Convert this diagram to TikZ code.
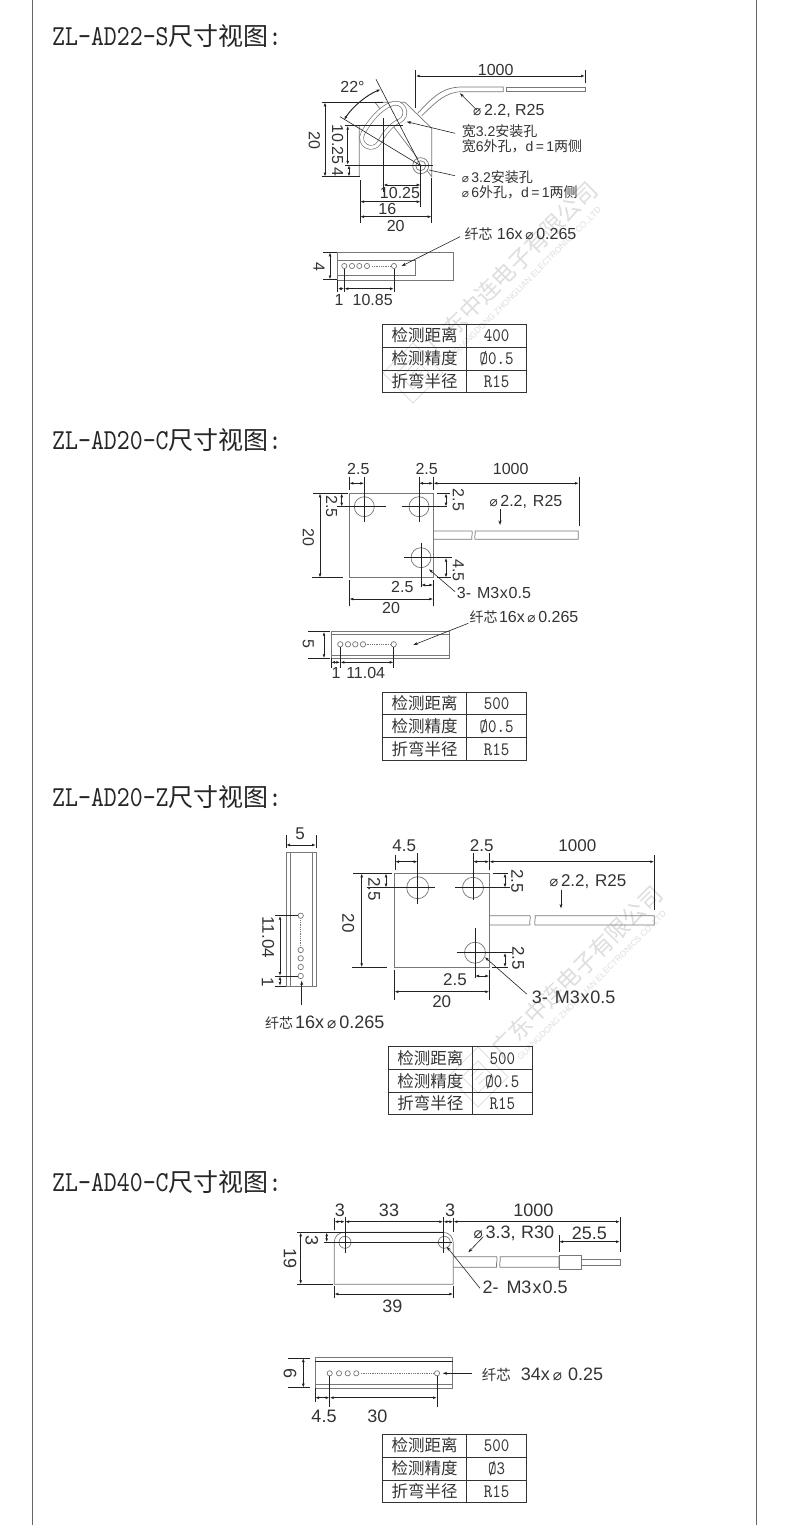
\documentclass[tikz,border=0pt]{standalone}
\usepackage{fontspec}
\setmainfont{Liberation Sans}
\newfontfamily\cj{Noto Sans CJK SC}
\newfontfamily\djv{DejaVu Sans}
\newfontfamily\hf[FakeStretch=0.85]{lmmono10-regular.otf}
\usetikzlibrary{arrows.meta}
\definecolor{txt}{HTML}{333333}
\definecolor{lin}{HTML}{222222}
\definecolor{thinc}{HTML}{777777}
\definecolor{wm}{HTML}{DEDEDE}
\newcommand\C[1]{{\cj #1}}
\newcommand\dia{\scalebox{0.85}{\djv ⌀}}
\newcommand\fib{\C{\fontsize{14}{16}\selectfont 纤芯}}
\newcounter{nn}
\newcommand\tx[3][]{\stepcounter{nn}\node[lab,#1] (t\arabic{nn}) at (#2) {#3};}
\tikzset{
  lab/.style={inner sep=0pt,text=txt,anchor=center},
  sA/.style={font=\fontsize{16}{18}\selectfont},
  sB/.style={font=\fontsize{17}{19}\selectfont},
  sC/.style={font=\fontsize{18}{20}\selectfont},
  sN/.style={font=\fontsize{14}{16}\selectfont},
  rv/.style={rotate=-90},
  lf/.style={anchor=west},
  dimn/.style={draw=lin,line width=.95pt,{Latex[length=4pt,width=2.8pt]}-{Latex[length=4pt,width=2.8pt]}},
  ext/.style={draw=lin,line width=.95pt},
  thinl/.style={draw=thinc,line width=.7pt},
  lead/.style={draw=lin,line width=.6pt,-{Stealth[length=4.5pt,width=3pt]}},
  sm/.style={draw=thinc,line width=.7pt,fill=white},
  dots/.style={draw=thinc,line width=.8pt,dash pattern=on .9pt off .9pt},
  wmc/.style={rotate=45,text=wm,inner sep=0pt,font=\cj\fontsize{23}{24}\selectfont},
  wme/.style={rotate=45,text=wm,inner sep=0pt,font=\fontsize{8.5}{10}\selectfont},
  heading/.style={inner sep=0pt,anchor=west,text=black!85},
  tcell/.style={inner sep=0pt,text=txt,font=\cj\fontsize{16.5}{18}\selectfont},
  tval/.style={inner sep=0pt,text=txt,font=\hf\fontsize{19}{20}\selectfont},
}
\newcommand\wmark[2]{%
  \begin{scope}[shift={(#1,#2)}]
    \node[wmc] (wa#1) at (0,2) {广东中连电子有限公司};
    \node[wme] (wb#1) at (15,17) {GUANGDONG ZHONGLIAN ELECTRONICS CO.,LTD};
    \draw[wm,line width=1pt] (-99,78) -- (-69,108) -- (-99,138) -- (-129,108) -- cycle;
    \draw[wm,line width=1pt] (-99,92) -- (-83,108) -- (-99,124) -- (-115,108) -- cycle;
    \draw[wm,line width=1pt] (-106,107) -- (-98,99) (-102,111) -- (-94,103) (-98,115) -- (-90,107);
  \end{scope}}
\newcommand\head[2]{\node[heading] (h#1) at (52,#1) {\hf\fontsize{29}{30}\selectfont #2\C{\fontsize{25}{30}\selectfont 尺寸视图}:};}
\newcommand\tbl[5]{%
  \begin{scope}[shift={(#1,#2)}]
    \draw[draw=txt,line width=.9pt] (0,0) rectangle (144,68);
    \draw[draw=txt,line width=.9pt] (0,22.7) -- (144,22.7) (0,45.7) -- (144,45.7) (84,0) -- (84,68);
    \node[tcell] (ca#2) at (42,11.3) {检测距离};
    \node[tcell] (cb#2) at (42,34.2) {检测精度};
    \node[tcell] (cc#2) at (42,56.8) {折弯半径};
    \node[tval] (va#2) at (114,11.8) {#3};
    \node[tval] (vb#2) at (114,34.7) {#4};
    \node[tval] (vc#2) at (114,57.3) {#5};
  \end{scope}}
\newcommand\hl[3]{\draw[sm] (#1,#2) circle (#3);}
\newcommand\slotpath{(395.5,112.5) .. controls (386,116) and (377,127) .. (371,138)}
\begin{document}
\begin{tikzpicture}[x=1pt,y=-1pt]
\useasboundingbox (0,0) rectangle (790,1525);
\fill[white] (0,0) rectangle (790,1525);
% watermarks
\wmark{512}{265}
\wmark{577}{969}
% frame
\draw[draw=black!60,line width=1pt] (32.5,0) -- (32.5,1525) (756.3,0) -- (756.3,1525);
% headings
\head{36}{ZL-AD22-S}
\head{440}{ZL-AD20-C}
\head{797}{ZL-AD20-Z}
\head{1182}{ZL-AD40-C}
% tables
\tbl{382.7}{324.3}{400}{Ø0.5}{R15}
\tbl{382.7}{692}{500}{Ø0.5}{R15}
\tbl{388.3}{1046.7}{500}{Ø0.5}{R15}
\tbl{382.7}{1434.3}{500}{Ø3}{R15}

%% ========== section 1
\draw[thinl] (359.3,176.7) -- (359.3,125) (375,102.3) -- (405,102.3) -- (431.7,128.3) -- (431.7,176.7) -- cycle;
\draw[line width=23.4pt,line cap=round,draw=thinc] \slotpath;
\draw[line width=22pt,line cap=round,draw=white] \slotpath;
\draw[line width=15.4pt,line cap=round,draw=thinc] \slotpath;
\draw[line width=14pt,line cap=round,draw=white] \slotpath;
% cable
\draw[thinl] (417.7,113.3) .. controls (432,98) and (442,87) .. (462,87) -- (503.3,87) -- (503.3,91.7) -- (462,91.7) .. controls (446,91.7) and (436,102) .. (421.7,115.7);
\draw[thinl] (506,87) rectangle (585,91.7);
% hole
\hl{420.7}{165.7}{8}
\hl{420.7}{165.7}{5}
% construction lines
\draw[draw=lin,line width=.6pt] (376,79.3) -- (420.7,165.7) -- (340,116.7);
\draw[dimn] (344,120) .. controls (353,106) and (367,95) .. (380.7,89.3);
\tx[sA]{352.5,86.7}{22°}
% 1000
\draw[ext] (415.7,70) -- (415.7,108) (585,70) -- (585,83);
\draw[dimn] (415.7,76) -- (585,76);
\tx[sA]{495.7,70}{1000}
\draw[lead] (476.7,110) -- (460,93.3);
\tx[sA,lf]{473,110.7}{\dia\,2.2, R25}
% vertical dims
\draw[ext] (321.7,102.3) -- (383.3,102.3) (321.7,176.7) -- (360,176.7);
\draw[dimn] (325,102.3) -- (325,176.7);
\tx[sA,rv]{314.3,140.7}{20}
\draw[ext] (345,125.7) -- (403.3,125.7) (345,165) -- (433.3,165);
\draw[dimn] (347.7,125.7) -- (347.7,165);
\tx[sA,rv]{337.7,144.3}{10.25}
\draw[dimn] (349,165) -- (349,176.7);
\tx[sA,rv]{337.7,171.7}{4}
% horizontal dims
\draw[ext] (383.3,118.3) -- (383.3,191.7) (420.7,165) -- (420.7,206.7) (360,180) -- (360,223.3) (431.7,178) -- (431.7,222.7);
\draw[dimn] (383.3,185) -- (420.7,185);
\tx[sA]{400,192.7}{10.25}
\draw[dimn] (360,201.7) -- (420.7,201.7);
\tx[sA]{387.3,209.3}{16}
\draw[dimn] (360,216.7) -- (431.7,216.7);
\tx[sA]{395.7,226}{20}
% notes
\draw[lead] (455,133.3) -- (406.7,121.7);
\tx[sN,lf]{461.7,131.7}{\C{宽}3.2\C{安装孔}}
\tx[sN,lf]{461.7,146.7}{\C{宽}6\C{外孔，}d\,=\,1\C{两侧}}
\draw[draw=lin,line width=.6pt] (455,175.7) -- (429,170);
\tx[sN,lf]{461.7,177.3}{\dia\,3.2\C{安装孔}}
\tx[sN,lf]{461.7,192.7}{\dia\,6\C{外孔，}d\,=\,1\C{两侧}}
% side view
\draw[thinl] (337.7,252.3) rectangle (453.3,280);
\draw[thinl] (337.7,260.7) rectangle (415.7,275.7);
\hl{344.3}{266}{2.6}\hl{352}{266}{2.6}\hl{359.3}{266}{2.6}\hl{367}{266}{2.6}\hl{394}{266}{2.6}
\draw[dots] (372,266) -- (391,266);
\draw[ext] (323,252.3) -- (337,252.3) (323,279.5) -- (337,279.5);
\draw[dimn] (330,252.3) -- (330,279.5);
\tx[sA,rv]{319,266.7}{4}
\draw[ext] (337.7,280) -- (337.7,291.7) (344.3,269) -- (344.3,291.7) (394,269) -- (394,291.7);
\draw[dimn] (337.7,288.7) -- (344.3,288.7);
\draw[dimn] (344.3,288.7) -- (394,288.7);
\tx[sA]{339,300}{1}
\tx[sA]{372.7,300}{10.85}
\draw[lead] (460,236.7) -- (401.7,266);
\tx[sA,lf]{464.3,234}{\fib\ 16x\,\dia\,0.265}

%% ========== section 2
\draw[thinl] (349.3,493.3) rectangle (433.3,577.7);
\draw[thinl] (433.3,531) -- (472,531) .. controls (473,533) and (471,537) .. (472,539.3) -- (433.3,539.3);
\draw[thinl] (475,531) -- (578.3,531) -- (578.3,539.3) -- (475,539.3) .. controls (474,537) and (476,533) .. (475,531);
\hl{364.3}{506.7}{10}\hl{419}{506.7}{10}\hl{421}{557.7}{10}
\draw[ext] (336.7,506.7) -- (386,506.7) (364.3,476.7) -- (364.3,521.7)
 (402.3,506.7) -- (446.7,506.7) (419,476.7) -- (419,521.7)
 (404,557.7) -- (451.7,557.7) (421,542.7) -- (421,587.3);
\draw[ext] (349.3,476.7) -- (349.3,490) (433.3,476.7) -- (433.3,490) (579,476.7) -- (579,526);
\draw[dimn] (349.3,483.3) -- (364.3,483.3);
\draw[dimn] (419,483.3) -- (433.3,483.3);
\draw[dimn] (433.3,483.3) -- (579,483.3);
\tx[sA]{358.3,469.3}{2.5}
\tx[sA]{426.7,469.3}{2.5}
\tx[sA]{510.7,469.3}{1000}
\draw[ext] (313.3,493.3) -- (348,493.3) (311.7,577.7) -- (342.7,577.7);
\draw[dimn] (320,493.3) -- (320,577.7);
\tx[sA,rv]{308.3,537.7}{20}
\draw[dimn] (341.7,493.3) -- (341.7,506.7);
\tx[sA,rv]{331.7,506.7}{2.5}
\draw[ext] (436.7,493.3) -- (450,493.3) (436.7,577.7) -- (450.7,577.7);
\draw[dimn] (446,493.3) -- (446,506.7);
\tx[sA,rv]{458.3,500}{2.5}
\draw[dimn] (446,557.7) -- (446,577.7);
\tx[sA,rv]{458.3,570.7}{4.5}
\draw[ext] (433.3,580) -- (433.3,606) (349.3,580) -- (349.3,606);
\draw[dimn] (421,585) -- (433.3,585);
\tx[sA]{402.3,586.7}{2.5}
\draw[dimn] (349.3,599) -- (433.3,599);
\tx[sA]{391,607.7}{20}
\draw[lead] (455,591.7) -- (429,569.3);
\tx[sA,lf]{456.7,593.3}{3-\hspace{1.5pt} M3\hspace{.7pt}x\hspace{.7pt}0.5}
\tx[sA,lf]{489.3,501.7}{\dia\,2.2,\hspace{1.5pt} R25}
\draw[lead] (500,509.3) -- (500,525);
% side
\draw[thinl] (331,631.7) rectangle (449.3,658.3);
\draw[thinl] (331,634.3) -- (449.3,634.3) (331,655) -- (449.3,655);
\hl{340.3}{644.3}{2.7}\hl{348}{644.3}{2.7}\hl{355.3}{644.3}{2.7}\hl{363}{644.3}{2.7}\hl{393.7}{644.3}{2.7}
\draw[dots] (366.5,644.3) -- (391,644.3);
\draw[ext] (308,631.7) -- (330,631.7) (308,658.3) -- (330,658.3);
\draw[dimn] (324,631.7) -- (324,658.3);
\tx[sA,rv]{308.3,644.3}{5}
\draw[ext] (331,658.3) -- (331,668.3) (340.3,647) -- (340.3,668.3) (393.7,647) -- (393.7,668.3);
\draw[dimn] (331,662.3) -- (340.3,662.3);
\draw[dimn] (340.3,662.3) -- (393.7,662.3);
\tx[sA]{336,673.3}{1}
\tx[sA]{365.7,673.3}{11.04}
\draw[lead] (468.3,623.3) -- (413.3,645);
\tx[sA,lf]{469.3,616.7}{\fib\hspace{1.5pt}16x\,\dia\,0.265}

%% ========== section 3
\draw[thinl] (286,852.7) rectangle (316,986);
\draw[thinl] (290,852.7) -- (290,986) (312.7,852.7) -- (312.7,986);
\draw[ext] (286,835) -- (286,848) (316,835) -- (316,848);
\draw[dimn] (286,845) -- (316,845);
\tx[sB]{300,833.3}{5}
\hl{300.7}{915.7}{2.7}\hl{300.7}{950}{2.7}\hl{300.7}{958.3}{2.7}\hl{300.7}{967}{2.7}\hl{300.7}{976}{2.7}
\draw[dots] (300.7,920) -- (300.7,946.7);
\draw[ext] (275,915.7) -- (298,915.7) (275,976) -- (298,976) (275,986) -- (286,986);
\draw[dimn] (280,915.7) -- (280,976);
\tx[sB,rv]{268.3,937.3}{11.04}
\draw[dimn] (280,976) -- (280,986);
\tx[sB,rv]{267.7,982.3}{1}
\draw[lead] (301.7,1005) -- (301.7,980.7);
\tx[sC,lf]{265,1022.3}{\fib\hspace{2pt}16x\,\dia\,0.265}
\draw[thinl] (394.3,873.3) rectangle (489.3,967.3);
\draw[thinl] (489.3,915.7) -- (530,915.7) .. controls (531,918) and (529,922) .. (530,925) -- (489.3,925);
\draw[thinl] (535,915.7) -- (654.3,915.7) -- (654.3,925) -- (535,925) .. controls (534,922) and (536,918) .. (535,915.7);
\hl{417.7}{887.7}{11}\hl{473}{887.7}{10.5}\hl{475}{952.7}{10.5}
\draw[ext] (366.7,887.7) -- (435,887.7) (417.7,853) -- (417.7,904)
 (455,887.7) -- (510,887.7) (473,853.3) -- (473,900)
 (456.7,952.7) -- (511.7,952.7) (475,928) -- (475,978);
\draw[ext] (395,855) -- (395,870) (489.3,853) -- (489.3,870) (654.3,855) -- (654.3,910);
\draw[dimn] (395,861.7) -- (417.7,861.7);
\draw[dimn] (473,861.7) -- (489.3,861.7);
\draw[dimn] (489.3,861.7) -- (654.3,861.7);
\tx[sB]{404.3,846}{4.5}
\tx[sB]{481.7,846}{2.5}
\tx[sB]{577.3,846}{1000}
\draw[ext] (353.3,873.3) -- (391.7,873.3) (351.7,967.3) -- (386.7,967.3);
\draw[dimn] (361.7,873.3) -- (361.7,967.3);
\tx[sB,rv]{348.3,923}{20}
\draw[dimn] (386,873.3) -- (386,887.7);
\tx[sB,rv]{374.3,889.3}{2.5}
\draw[ext] (493.3,873.3) -- (508,873.3) (491.7,967.3) -- (508,967.3);
\draw[dimn] (505,873.3) -- (505,887.7);
\tx[sB,rv]{517.3,881}{2.5}
\draw[dimn] (505,952.7) -- (505,967.3);
\tx[sB,rv]{518.3,958.3}{2.5}
\draw[ext] (489.3,970) -- (489.3,1000) (394.3,970) -- (394.3,1000);
\draw[dimn] (475,976) -- (489.3,976);
\tx[sB]{455,979.3}{2.5}
\draw[dimn] (394.3,991.7) -- (489.3,991.7);
\tx[sB]{441.7,1001.7}{20}
\draw[lead] (526.7,994) -- (485,957.3);
\tx[sC,lf]{531.7,997.7}{3-\hspace{2pt} M3\hspace{.7pt}x\hspace{.7pt}0.5}
\tx[sB,lf]{549.3,881.7}{\dia\,2.2,\hspace{1pt} R25}
\draw[lead] (561,890) -- (561,908.3);

%% ========== section 4
\draw[thinl] (334.3,1242) .. controls (334.3,1236) and (339,1232.3) .. (345,1232.3) -- (443,1232.3) .. controls (449,1232.3) and (453.3,1237) .. (453.3,1243) -- (453.3,1284.3) -- (334.3,1284.3) -- cycle;
\draw[thinl] (453.3,1256.7) -- (496.7,1256.7) .. controls (498,1260) and (495.5,1264) .. (496.7,1267.3) -- (453.3,1267.3);
\draw[thinl] (500,1256.7) -- (559,1256.7) -- (559,1267.3) -- (500,1267.3) .. controls (498.8,1264) and (501.2,1260) .. (500,1256.7);
\draw[thinl] (559,1255.7) rectangle (581.7,1269);
\draw[thinl] (581.7,1259.3) rectangle (620.7,1265);
\hl{345}{1242.3}{6}\hl{444.3}{1242.3}{6}
\draw[ext] (324.3,1242.3) -- (451.7,1242.3) (345,1216.7) -- (345,1253.3) (443.3,1216.7) -- (443.3,1253.3);
\draw[ext] (334.3,1218) -- (334.3,1230) (453.3,1218) -- (453.3,1232) (620,1216.7) -- (620,1251.7) (559,1235) -- (559,1251.7);
\draw[dimn] (334.3,1221.7) -- (345,1221.7);
\draw[dimn] (345,1221.7) -- (443.3,1221.7);
\draw[dimn] (443.3,1221.7) -- (453.3,1221.7);
\draw[dimn] (453.3,1221.7) -- (620,1221.7);
\tx[sC]{340,1210.7}{3}
\tx[sC]{389,1210.7}{33}
\tx[sC]{450,1210.7}{3}
\tx[sC]{533.3,1210.7}{1000}
\draw[dimn] (559,1241.7) -- (620,1241.7);
\tx[sC]{589.3,1233.3}{25.5}
\tx[sC,lf]{473.3,1233.3}{\dia\,3.3,\hspace{.5pt} R30}
\draw[lead] (483.3,1236.7) -- (468.3,1252.3);
\draw[ext] (297.3,1232.3) -- (443,1232.3) (297.3,1284.3) -- (333,1284.3);
\draw[dimn] (300.7,1232.3) -- (300.7,1284.3);
\tx[sC,rv]{290,1258.3}{19}
\draw[dimn] (326.7,1232.3) -- (326.7,1242.3);
\tx[sC,rv]{311.7,1240.7}{3}
\draw[ext] (334.3,1286) -- (334.3,1298) (453.3,1286) -- (453.3,1298);
\draw[dimn] (334.3,1294) -- (453.3,1294);
\tx[sC]{392.3,1306.7}{39}
\draw[lead] (480,1288.3) -- (446.7,1246.7);
\tx[sC,lf]{482.3,1287.3}{2-\hspace{3pt} M3\hspace{1pt}x\hspace{1pt}0.5}
% side
\draw[thinl] (315,1357.7) rectangle (452.7,1388.3);
\draw[ext] (315,1361.7) -- (452.7,1361.7);
\draw[thinl] (315,1384.3) -- (452.7,1384.3);
\hl{329.7}{1373.3}{2.6}\hl{339}{1373.3}{2.6}\hl{347.7}{1373.3}{2.6}\hl{356.3}{1373.3}{2.6}\hl{437}{1373.3}{2.6}
\draw[dots] (360.7,1373.3) -- (433.3,1373.3);
\draw[ext] (288.3,1358) -- (310,1358) (288.3,1387.7) -- (310,1387.7);
\draw[dimn] (303.3,1358) -- (303.3,1387.7);
\tx[sC,rv]{290,1373.3}{6}
\draw[ext] (315,1388.3) -- (315,1402) (329.7,1376) -- (329.7,1406.7) (437,1376) -- (437,1406.7);
\draw[dimn] (315,1397.7) -- (329.7,1397.7);
\draw[dimn] (329.7,1397.7) -- (437,1397.7);
\tx[sC]{324,1416}{4.5}
\tx[sC]{377.3,1416}{30}
\draw[lead] (471.7,1373.3) -- (442.7,1373.3);
\tx[sC,lf]{481.7,1375}{\C{\fontsize{14.5}{16}\selectfont 纤芯}\hspace{10pt}34x\,\dia\,\,0.25}
\end{tikzpicture}
\end{document}
